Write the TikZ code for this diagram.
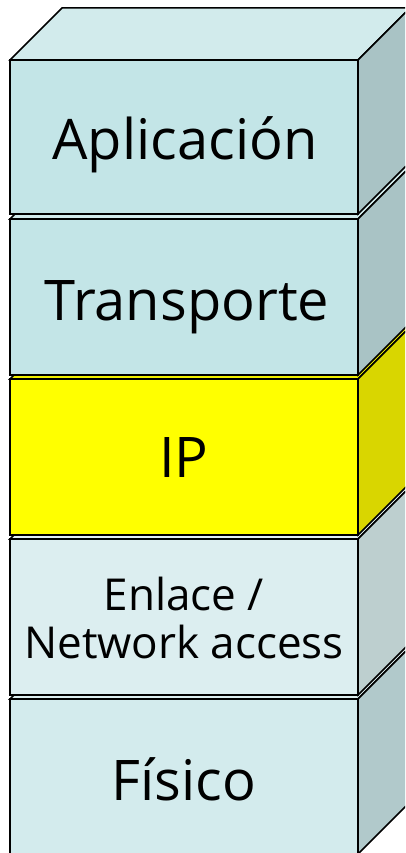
\documentclass[tikz,border=0pt]{standalone}
\usepackage{fontspec}
\setmainfont{Open Sans}
\definecolor{cyfront}{HTML}{C3E5E7}
\definecolor{cytop}{HTML}{D2EBEC}
\definecolor{cyside}{HTML}{A9C3C5}
\definecolor{ipfront}{HTML}{FFFF00}
\definecolor{iptop}{HTML}{F0F000}
\definecolor{ipside}{HTML}{D9D600}
\definecolor{enfront}{HTML}{DCEEF0}
\definecolor{entop}{HTML}{E4F2F3}
\definecolor{enside}{HTML}{BDCFCF}
\definecolor{fifront}{HTML}{D3EBED}
\definecolor{fitop}{HTML}{DDEFF0}
\definecolor{fiside}{HTML}{B1C9CB}
\tikzset{
  edge/.style={draw=black, line width=1.5pt},
  lbl/.style={anchor=base, inner sep=0pt, font=\fontsize{56}{60}\selectfont},
  lblsmall/.style={anchor=base, inner sep=0pt, font=\fontsize{44}{48}\selectfont, align=center},
}
% #1 top y, #2 bottom y, #3 front, #4 top, #5 side
\newcommand{\layerbox}[5]{%
  \fill[#4] (10,#1) -- ++(52,-52) -- (410,#1-52) -- (358,#1) -- cycle;
  \draw[edge] (10,#1) -- ++(52,-52) -- (410,#1-52) -- (358,#1) -- cycle;
  \fill[#5] (358,#1) -- (410,#1-52) -- (410,#2-52) -- (358,#2) -- cycle;
  \draw[edge] (358,#1) -- (410,#1-52) -- (410,#2-52) -- (358,#2) -- cycle;
  \fill[#3] (10,#1) rectangle (358,#2);
  \draw[edge] (10,#1) rectangle (358,#2);
}
\begin{document}
\begin{tikzpicture}[x=1pt,y=-1pt]
\useasboundingbox (0,0) rectangle (405,853);
\clip (0,0) rectangle (405,853);
\fill[white] (0,0) rectangle (405,853);
\layerbox{699}{854}{fifront}{fitop}{fiside}
\layerbox{539}{695}{enfront}{entop}{enside}
\layerbox{379}{535}{ipfront}{iptop}{ipside}
\layerbox{219}{375}{cyfront}{cytop}{cyside}
\layerbox{60}{214}{cyfront}{cytop}{cyside}
\node[lbl] (app) at (185,160) {Aplicación};
\node[lbl] (tra) at (187,320) {Transporte};
\node[lbl] (ip) at (184,477) {IP};
\node[lblsmall] (enl) at (184,610) {Enlace /};
\node[lblsmall] (net) at (184,658) {Network access};
\node[lbl] (fis) at (184,800) {Físico};
\end{tikzpicture}
\end{document}
